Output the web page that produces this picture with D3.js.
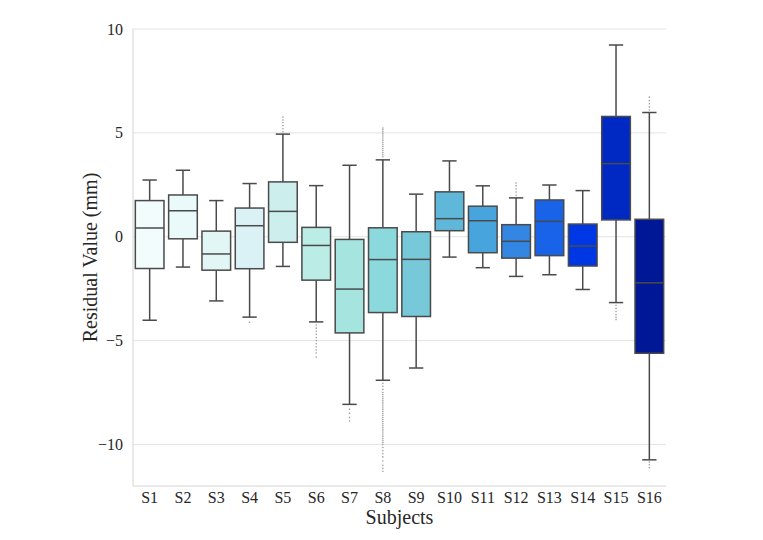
<!DOCTYPE html>
<html>
<head>
<meta charset="utf-8">
<script src="https://cdn.jsdelivr.net/npm/d3@7"></script>
<style>
  body { margin: 0; background: #fff; }
  svg { display: block; }
  text { font-family: "Liberation Serif", "Times New Roman", serif; fill: #262626; }
</style>
</head>
<body>
<svg id="chart"></svg>
<script>
// values
var subjects = ["S1","S2","S3","S4","S5","S6","S7","S8","S9","S10","S11","S12","S13","S14","S15","S16"];
var whiskLow  = [-4.02,-1.46,-3.09,-3.87,-1.43,-4.10,-8.07,-6.91,-6.32,-0.98,-1.49,-1.91,-1.83,-2.54,-3.17,-10.74];
var q1        = [-1.53,-0.10,-1.61,-1.54,-0.27,-2.09,-4.63,-3.65,-3.84, 0.29,-0.77,-1.03,-0.91,-1.41, 0.81,-5.61];
var median    = [ 0.42, 1.25,-0.83, 0.53, 1.22,-0.42,-2.52,-1.10,-1.09, 0.87, 0.77,-0.22, 0.74,-0.45, 3.52,-2.22];
var q3        = [ 1.74, 2.01, 0.27, 1.38, 2.64, 0.45,-0.13, 0.43, 0.24, 2.16, 1.47, 0.58, 1.77, 0.61, 5.79, 0.84];
var whiskHigh = [ 2.73, 3.20, 1.74, 2.56, 4.94, 2.46, 3.44, 3.70, 2.05, 3.65, 2.45, 1.87, 2.49, 2.22, 9.23, 5.98];
var fliers = [
  [],
  [],
  [],
  [-4.12],
  [5.05, 5.2, 5.35, 5.5, 5.62, 5.76],
  [-4.25, -4.4, -4.55, -4.7, -4.85, -5.0, -5.15, -5.3, -5.45, -5.6, -5.79],
  [-8.3, -8.5, -8.7, -8.87],
  [3.85, 3.95, 4.05, 4.15, 4.25, 4.35, 4.45, 4.55, 4.65, 4.75, 4.85, 4.95, 5.05, 5.15, 5.23,
   -7.05, -7.2, -7.35, -7.5, -7.6, -7.7, -7.8, -7.9, -8.0, -8.1, -8.2, -8.3, -8.4, -8.5, -8.6, -8.7,
   -8.8, -8.9, -9.0, -9.1, -9.2, -9.3, -9.4, -9.5, -9.6, -9.7, -9.8, -9.9, -10.0, -10.15, -10.3,
   -10.45, -10.6, -10.8, -11.0, -11.15, -11.29],
  [],
  [],
  [],
  [2.0, 2.15, 2.3, 2.45, 2.59],
  [],
  [],
  [-3.3, -3.45, -3.6, -3.75, -3.88, -3.99],
  [6.1, 6.25, 6.4, 6.55, 6.72, -10.85, -10.98, -11.12]
];
var colors = ["#f3fcfc","#eafafa","#e2f6f6","#daf1f6","#ccefed","#bbece5","#a6e4e0","#8cd9dd",
              "#77c9d9","#5fb7d9","#48a4dc","#3387e3","#1863e8","#0037e5","#0028c3","#001896"];
var yTicks = [-10, -5, 0, 5, 10];

var W = 763, H = 540;
var plot = {left: 133, right: 666, top: 29, bottom: 486};

var svg = d3.select("#chart").attr("width", W).attr("height", H);

var x = d3.scaleBand()
    .domain(subjects)
    .range([plot.left, plot.right])
    .padding(0);

var y = d3.scaleLinear()
    .domain([-12, 10])
    .range([plot.bottom, plot.top]);

// grid
svg.append("g").selectAll("line")
    .data(yTicks)
  .enter().append("line")
    .attr("x1", plot.left).attr("x2", plot.right)
    .attr("y1", function(d) { return y(d); })
    .attr("y2", function(d) { return y(d); })
    .attr("stroke", "#e3e3e3")
    .attr("stroke-width", 1);

// spines
svg.append("line")
    .attr("x1", plot.left).attr("x2", plot.left)
    .attr("y1", plot.top).attr("y2", plot.bottom)
    .attr("stroke", "#d4d4d4");
svg.append("line")
    .attr("x1", plot.left).attr("x2", plot.right)
    .attr("y1", plot.bottom).attr("y2", plot.bottom)
    .attr("stroke", "#d4d4d4");

// axes (labels only)
var yAxis = svg.append("g")
    .attr("transform", "translate(" + plot.left + ",0)")
    .call(d3.axisLeft(y).tickValues(yTicks).tickSize(0).tickPadding(10)
        .tickFormat(function(d) { return d < 0 ? "\u2212" + Math.abs(d) : d; }));
yAxis.select(".domain").remove();
yAxis.selectAll("text").style("font-size", "16px").style("font-family", "Liberation Serif, serif").attr("fill", "#262626");

var xAxis = svg.append("g")
    .attr("transform", "translate(0," + plot.bottom + ")")
    .call(d3.axisBottom(x).tickSize(0).tickPadding(6));
xAxis.select(".domain").remove();
xAxis.selectAll("text").style("font-size", "16px").style("font-family", "Liberation Serif, serif").attr("fill", "#262626");

var bw = x.bandwidth() * 0.86;
var lineCol = "#4a4a4a";

var boxes = svg.append("g").selectAll("g.box")
    .data(subjects)
  .enter().append("g")
    .attr("class", "box")
    .attr("transform", function(d) { return "translate(" + (x(d) + x.bandwidth() / 2) + ",0)"; });

// whiskers
boxes.append("line")
    .attr("y1", function(d, i) { return y(whiskHigh[i]); })
    .attr("y2", function(d, i) { return y(q3[i]); })
    .attr("stroke", lineCol).attr("stroke-width", 1.5);
boxes.append("line")
    .attr("y1", function(d, i) { return y(q1[i]); })
    .attr("y2", function(d, i) { return y(whiskLow[i]); })
    .attr("stroke", lineCol).attr("stroke-width", 1.5);
// caps
boxes.append("line")
    .attr("x1", -bw / 4).attr("x2", bw / 4)
    .attr("y1", function(d, i) { return y(whiskHigh[i]); })
    .attr("y2", function(d, i) { return y(whiskHigh[i]); })
    .attr("stroke", lineCol).attr("stroke-width", 1.5);
boxes.append("line")
    .attr("x1", -bw / 4).attr("x2", bw / 4)
    .attr("y1", function(d, i) { return y(whiskLow[i]); })
    .attr("y2", function(d, i) { return y(whiskLow[i]); })
    .attr("stroke", lineCol).attr("stroke-width", 1.5);

// fliers
boxes.selectAll("circle")
    .data(function(d, i) { return fliers[i]; })
  .enter().append("circle")
    .attr("cx", 0)
    .attr("cy", function(v) { return y(v); })
    .attr("r", 0.8)
    .attr("fill", "#9a9a9a");

// box body
boxes.append("rect")
    .attr("x", -bw / 2)
    .attr("width", bw)
    .attr("y", function(d, i) { return y(q3[i]); })
    .attr("height", function(d, i) { return y(q1[i]) - y(q3[i]); })
    .attr("fill", function(d, i) { return colors[i]; })
    .attr("stroke", lineCol).attr("stroke-width", 1.5);

// median
boxes.append("line")
    .attr("x1", -bw / 2).attr("x2", bw / 2)
    .attr("y1", function(d, i) { return y(median[i]); })
    .attr("y2", function(d, i) { return y(median[i]); })
    .attr("stroke", lineCol).attr("stroke-width", 1.5);

// axis titles
svg.append("text")
    .attr("transform", "translate(97," + ((plot.top + plot.bottom) / 2) + ") rotate(-90)")
    .attr("text-anchor", "middle")
    .style("font-size", "20px")
    .text("Residual Value (mm)");

svg.append("text")
    .attr("x", (plot.left + plot.right) / 2)
    .attr("y", 524)
    .attr("text-anchor", "middle")
    .style("font-size", "20px")
    .text("Subjects");
</script>
</body>
</html>
